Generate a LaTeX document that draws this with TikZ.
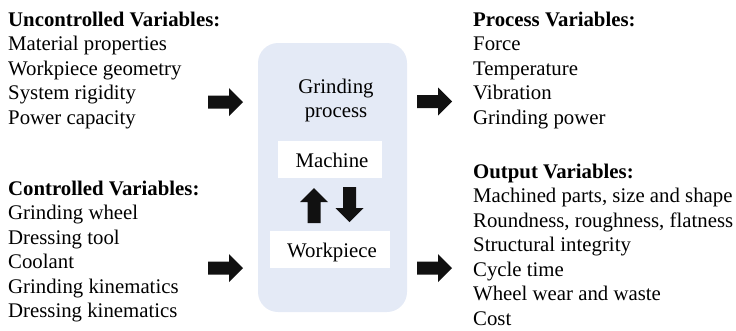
\documentclass[tikz,border=0pt]{standalone}
\usepackage{fontspec}
\newfontfamily\tnr{Liberation Serif}
\begin{document}
\begin{tikzpicture}[x=1pt,y=-1pt,
  txt/.style={anchor=base west,inner sep=0pt,font=\fontsize{20.8}{24}\selectfont\tnr},
  head/.style={txt,font=\fontsize{20.8}{24}\selectfont\tnr\bfseries},
  ctxt/.style={anchor=base,inner sep=0pt,font=\fontsize{20.8}{24}\selectfont\tnr},
  procbox/.style={fill=boxblue,rounded corners=20pt},
  whitebox/.style={fill=white},
  blockarrow/.pic={\fill[arrowblack] (0,-6.5) -- (21,-6.5) -- (21,-14) -- (35,0) -- (21,14) -- (21,6.5) -- (0,6.5) -- cycle;}
]
\definecolor{boxblue}{HTML}{E4EAF6}
\definecolor{arrowblack}{HTML}{111111}
\useasboundingbox (0,0) rectangle (736,330);

% process box
\path[procbox] (258,43) rectangle (407,312);
\node[ctxt] (g1) at (336,93) {Grinding};
\node[ctxt] (g2) at (336,117) {process};
\path[whitebox] (278,141) rectangle (382,178);
\node[ctxt] (mach) at (332,167) {Machine};
\path[whitebox] (270,231) rectangle (390,268);
\node[ctxt] (work) at (332,257) {Workpiece};

% arrows
\pic at (208,102) {blockarrow};
\pic at (208,268) {blockarrow};
\pic at (417,101.5) {blockarrow};
\pic at (417,268) {blockarrow};
\pic[rotate=90] at (314,223) {blockarrow};
\pic[rotate=-90] at (349.5,187) {blockarrow};

% left texts
\node[head] (uh) at (8,26) {Uncontrolled Variables:};
\foreach \t [count=\i] in {Material properties,Workpiece geometry,System rigidity,Power capacity}
  \node[txt] (u\i) at (8,{26+24.5*\i}) {\t};
\node[head] (ch) at (8,195) {Controlled Variables:};
\foreach \t [count=\i] in {Grinding wheel,Dressing tool,Coolant,Grinding kinematics,Dressing kinematics}
  \node[txt] (c\i) at (8,{195+24.5*\i}) {\t};

% right texts
\node[head] (ph) at (473,26) {Process Variables:};
\foreach \t [count=\i] in {Force,Temperature,Vibration,Grinding power}
  \node[txt] (p\i) at (473,{26+24.5*\i}) {\t};
\node[head] (oh) at (473,178) {Output Variables:};
\foreach \t [count=\i] in {{Machined parts, size and shape},{Roundness, roughness, flatness},Structural integrity,Cycle time,Wheel wear and waste,Cost}
  \node[txt] (o\i) at (473,{178+24.5*\i}) {\t};
\end{tikzpicture}
\end{document}
